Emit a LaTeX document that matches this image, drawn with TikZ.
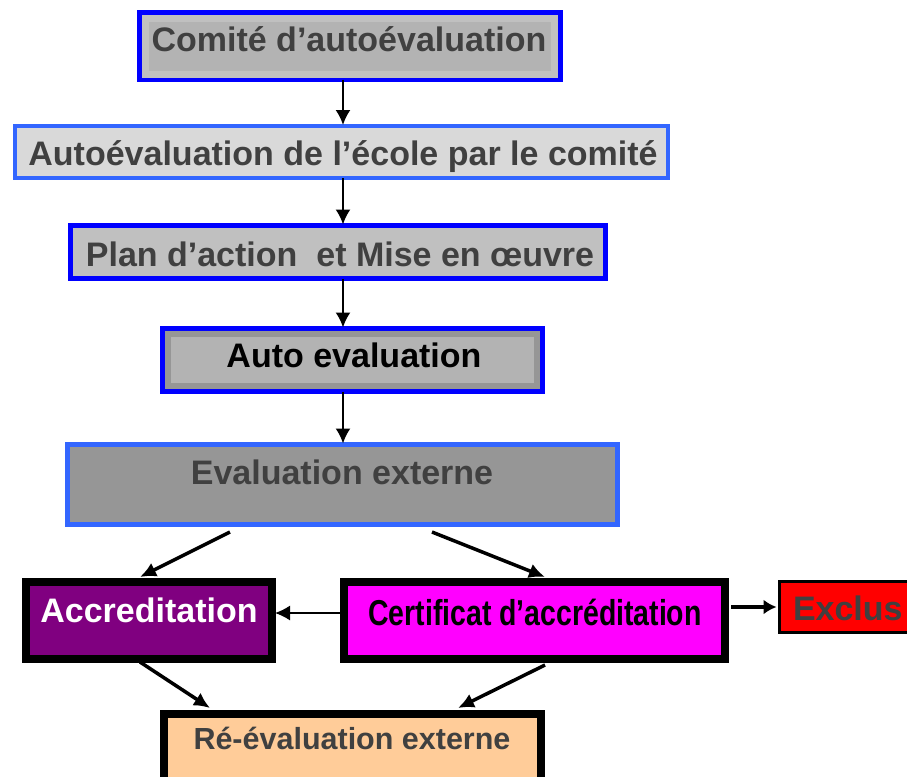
\documentclass[tikz,border=0pt]{standalone}
\usepackage{fontspec}
\setmainfont{Liberation Sans}
\newfontfamily\narrowfont[FakeStretch=0.79]{Liberation Sans}
\usetikzlibrary{arrows.meta}
\definecolor{bluedark}{HTML}{0000FF}
\definecolor{bluelight}{HTML}{3366FF}
\definecolor{txtgray}{HTML}{404040}
\definecolor{fillA}{HTML}{B3B3B3}
\definecolor{bandA}{HTML}{C0C0C0}
\definecolor{fillB}{HTML}{D9D9D9}
\definecolor{fillC}{HTML}{C0C0C0}
\definecolor{bandD}{HTML}{969696}
\definecolor{fillE}{HTML}{969696}
\definecolor{purp}{HTML}{800080}
\definecolor{magen}{HTML}{FF00FF}
\definecolor{redx}{HTML}{FF0000}
\definecolor{peach}{HTML}{FFCC99}
\tikzset{
  boxst/.style={draw, inner sep=0pt, outer sep=0pt, rectangle},
  lbl/.style={inner sep=0pt, outer sep=0pt, anchor=base, font=\bfseries\fontsize{34}{40}\selectfont},
  arrv/.style={line width=2pt, -{Latex[length=15pt,width=15pt]}},
  arrh/.style={line width=1.5pt, -{Latex[length=15pt,width=15pt]}},
  arrx/.style={line width=3.5pt, -{Latex[length=13pt,width=15pt]}},
  arrd/.style={line width=3.5pt, -{Latex[length=16pt,width=15pt]}}
}
\begin{document}
\begin{tikzpicture}[x=1pt,y=-1pt]
\useasboundingbox (0,0) rectangle (907,776);
\clip (0,0) rectangle (907,776);
% boxes
\node[boxst, draw=bluedark, line width=5pt, fill=fillA, minimum width=421pt, minimum height=67pt] (c1) at (350,46) {};
\draw[bandA, line width=6.5pt] (145.5,18.5) rectangle (554.5,74.5);
\node[lbl, text=txtgray] (t1) at (349,52) {Comité d’autoévaluation};

\node[boxst, draw=bluelight, line width=4pt, fill=fillB, minimum width=653pt, minimum height=52pt] (c2) at (341.5,152) {};
\node[lbl, text=txtgray] (t2) at (343,165) {Autoévaluation de l’école par le comité};

\node[boxst, draw=bluedark, line width=5pt, fill=fillC, minimum width=535pt, minimum height=53pt] (c3) at (338,252) {};
\node[lbl, text=txtgray] (t3) at (340,266) {Plan d’action\ \ et Mise en œuvre};

\node[boxst, draw=bluedark, line width=5pt, fill=fillA, minimum width=380pt, minimum height=63pt] (c4) at (352.5,360) {};
\draw[bandD, line width=6pt] (168,334) rectangle (537,386);
\node[lbl, text=black] (t4) at (354,367) {Auto evaluation};

\node[boxst, draw=bluelight, line width=5pt, fill=fillE, minimum width=550pt, minimum height=80pt] (ev) at (342.5,484.5) {};
\node[lbl, text=txtgray] (t5) at (342,484) {Evaluation externe};

\node[boxst, draw=black, line width=8pt, fill=purp, minimum width=246pt, minimum height=77pt] (acc) at (149,620.5) {};
\node[lbl, text=white] (t6) at (149,622) {Accreditation};

\node[boxst, draw=black, line width=8pt, fill=magen, minimum width=381pt, minimum height=77pt] (cert) at (534.5,620.5) {};
\node[lbl, text=black, font=\bfseries\narrowfont\fontsize{36}{42}\selectfont] (t7) at (535,625) {Certificat d’accréditation};

\node[boxst, draw=black, line width=3pt, fill=redx, minimum width=149pt, minimum height=51pt] (ex) at (854,607) {};
\node[lbl, text=txtgray, anchor=base west] (t8) at (793,620) {Exclus};

\node[boxst, draw=black, line width=8pt, fill=peach, minimum width=377pt, minimum height=82pt] (re) at (352.5,755) {};
\node[lbl, text=txtgray, font=\bfseries\fontsize{30.5}{36}\selectfont] (t9) at (352,749) {Ré-évaluation externe};

% x/y guides for connectors
\coordinate (vx) at (343,0);
\coordinate (d1) at (230,0);
\coordinate (d2) at (140,0);
\coordinate (d3) at (432,0);
\coordinate (d4) at (545,0);
\coordinate (d5) at (140,0);
\coordinate (d6) at (210,0);
\coordinate (d7) at (545,0);
\coordinate (d8) at (458,0);
\coordinate (h1) at (0,613);

% connectors
\draw[arrv] (c1.south -| vx) -- ([yshift=1pt]c2.north -| vx);
\draw[arrv] (c2.south -| vx) -- ([yshift=1pt]c3.north -| vx);
\draw[arrv] (c3.south -| vx) -- ([yshift=1pt]c4.north -| vx);
\draw[arrv] (c4.south -| vx) -- ([yshift=1pt]ev.north -| vx);
\draw[arrd] ([yshift=-7.5pt]ev.south -| d1) -- ([yshift=5pt]acc.north -| d2);
\draw[arrd] ([yshift=-7.5pt]ev.south -| d3) -- ([yshift=5pt]cert.north -| d4);
\draw[arrh] ([xshift=-4pt]cert.west |- h1) -- ([xshift=3pt]acc.east |- h1);
\draw[arrx] ([xshift=6pt]cert.east |- ex.west) -- ([xshift=-3pt]ex.west);
\draw[arrd] ([yshift=-3pt]acc.south -| d5) -- ([yshift=6pt]re.north -| d6);
\draw[arrd] ([yshift=-6pt]cert.south -| d7) -- ([yshift=6pt]re.north -| d8);
\end{tikzpicture}
\end{document}
